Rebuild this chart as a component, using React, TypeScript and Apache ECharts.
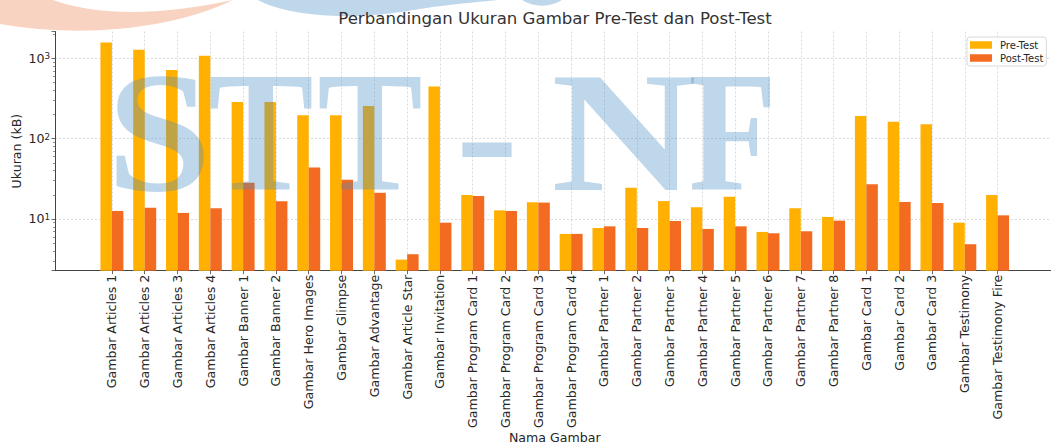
import React, { useEffect, useRef } from 'react';
import * as echarts from 'echarts';

const categories = [
  'Gambar Articles 1', 'Gambar Articles 2', 'Gambar Articles 3', 'Gambar Articles 4',
  'Gambar Banner 1', 'Gambar Banner 2', 'Gambar Hero Images', 'Gambar Glimpse',
  'Gambar Advantage', 'Gambar Article Star', 'Gambar Invitation',
  'Gambar Program Card 1', 'Gambar Program Card 2', 'Gambar Program Card 3', 'Gambar Program Card 4',
  'Gambar Partner 1', 'Gambar Partner 2', 'Gambar Partner 3', 'Gambar Partner 4',
  'Gambar Partner 5', 'Gambar Partner 6', 'Gambar Partner 7', 'Gambar Partner 8',
  'Gambar Card 1', 'Gambar Card 2', 'Gambar Card 3', 'Gambar Testimony', 'Gambar Testimony Fire',
];

const preTest = [
  1580, 1282, 716, 1079, 287, 287, 196, 196, 256, 3.12, 445,
  19.9, 12.8, 16.1, 6.52, 7.73, 24.5, 16.7, 14.0, 18.9, 6.9, 13.6, 10.6,
  192, 162, 151, 9.0, 19.9,
];

const postTest = [
  12.6, 13.8, 11.9, 13.6, 28.2, 16.6, 43.8, 30.8, 21.2, 3.64, 9.0,
  19.3, 12.6, 16.0, 6.52, 8.1, 7.73, 9.44, 7.52, 8.1, 6.64, 7.03, 9.53,
  27.0, 16.3, 15.8, 4.85, 11.1,
];

const seriesNames = ['Pre-Test', 'Post-Test'];
const yMin = 2.27;
const yMax = 2160;
const yMinorTickValues = [3, 4, 5, 6, 7, 8, 9, 20, 30, 40, 50, 60, 70, 80, 90, 200, 300, 400, 500, 600, 700, 800, 900, 2000];

const titleText = 'Perbandingan Ukuran Gambar Pre-Test dan Post-Test';
const xName = 'Nama Gambar';
const yName = 'Ukuran (kB)';

echarts.graphic.registerShape(
  'wmOrangeArc',
  echarts.graphic.extendPath('M0,0 L53,0 Q120,24 233,0 C170,30 80,38 0,24 Z', {})
);
echarts.graphic.registerShape(
  'wmBlueTop',
  echarts.graphic.extendPath('M258,0 C290,18 360,20 413,10 C450,4 480,2 497,0 Z M522,0 C535,8 550,7 562,0 Z', {})
);

const FONT = 'DejaVu Sans';
const TXT = '#262626';
const AXIS = '#444444';
const WM_BLUE = 'rgba(71,141,198,0.35)';

export default function App() {
  const ref = useRef<HTMLDivElement>(null);

  useEffect(() => {
    if (!ref.current) return;
    const chart = echarts.init(ref.current, null, { renderer: 'svg' });
    const idx = categories.map((_, i) => i);

    const wmLetters = [
      { t: 'S', x: 159, sx: 1.1 },
      { t: 'T', x: 261, sx: 0.92 },
      { t: 'T', x: 370, sx: 0.92 },
      { t: '-', x: 487, sx: 1.1 },
      { t: 'N', x: 624, sx: 1.17 },
      { t: 'F', x: 733, sx: 0.84 },
    ];

    const option: any = {
      animation: false,
      backgroundColor: '#ffffff',
      grid: {
        left: 55,
        top: 31.5,
        width: 999.5,
        height: 239.2,
        containLabel: false,
        outerBoundsMode: 'none',
      },
      legend: {
        orient: 'vertical',
        left: 967,
        top: 37,
        itemWidth: 22,
        itemHeight: 7.5,
        itemGap: 3,
        icon: 'rect',
        padding: [3, 3, 3, 3],
        borderColor: '#d9d9d9',
        borderWidth: 1,
        borderRadius: 3,
        backgroundColor: 'rgba(255,255,255,0.85)',
        textStyle: { fontFamily: FONT, fontSize: 10, color: TXT, padding: [0, 0, 0, 3] },
        data: seriesNames,
      },
      xAxis: {
        type: 'value',
        min: -1.735,
        max: 28.735,
        name: xName,
        nameLocation: 'middle',
        nameGap: 160,
        nameMoveOverlap: false,
        nameTextStyle: { fontFamily: FONT, fontSize: 12.6, color: TXT },
        axisLine: { show: true, onZero: false, lineStyle: { color: AXIS, width: 1 } },
        axisTick: { show: true, customValues: idx, length: 3.5, lineStyle: { color: AXIS, width: 0.8 } },
        axisLabel: {
          customValues: idx,
          formatter: (v: number) => categories[Math.round(v)] ?? '',
          rotate: 90,
          margin: 4,
          fontFamily: FONT,
          fontSize: 12.6,
          color: TXT,
          hideOverlap: false,
        },
        splitLine: { show: true, lineStyle: { type: [2, 2], color: '#d2d2d2', width: 0.8 } },
      },
      yAxis: [
        {
          type: 'log',
          logBase: 10,
          min: yMin,
          max: yMax,
          name: yName,
          nameLocation: 'middle',
          nameGap: 32,
          nameMoveOverlap: false,
          nameTextStyle: { fontFamily: FONT, fontSize: 12.6, color: TXT },
          axisLine: { show: true, onZero: false, lineStyle: { color: AXIS, width: 1 } },
          axisTick: { show: true, length: 3.5, lineStyle: { color: AXIS, width: 0.8 } },
          axisLabel: {
            margin: 5,
            formatter: (v: number) => {
              const e = Math.log10(v);
              const r = Math.round(e);
              return Math.abs(e - r) < 1e-6 ? `{b|10}{s|${r}}` : '';
            },
            rich: {
              b: { fontFamily: FONT, fontSize: 12.6, color: TXT, lineHeight: 13, verticalAlign: 'bottom' },
              s: { fontFamily: FONT, fontSize: 8.8, color: TXT, lineHeight: 9, verticalAlign: 'top', padding: [0, 0, 6, 0] },
            },
          },
          splitLine: {
            show: true,
            showMinLine: false,
            showMaxLine: false,
            lineStyle: { type: [2, 2], color: '#d2d2d2', width: 0.8 },
          },
        },
        {
          type: 'value',
          min: Math.log10(yMin),
          max: Math.log10(yMax),
          position: 'left',
          axisLine: { show: false, onZero: false },
          axisLabel: { show: false },
          splitLine: { show: false },
          axisTick: {
            show: true,
            customValues: yMinorTickValues.map((v) => Math.log10(v)),
            length: 2,
            lineStyle: { color: AXIS, width: 0.6 },
          },
        },
      ],
      series: [
        {
          name: seriesNames[0],
          type: 'bar',
          yAxisIndex: 0,
          data: idx.map((i) => [i, preTest[i]]),
          barWidth: '35%',
          barGap: '0%',
          clip: true,
          itemStyle: { color: '#FFB000' },
        },
        {
          name: seriesNames[1],
          type: 'bar',
          yAxisIndex: 0,
          data: idx.map((i) => [i, postTest[i]]),
          barWidth: '35%',
          barGap: '0%',
          clip: true,
          itemStyle: { color: '#F26B21' },
        },
      ],
      graphic: {
        elements: [
          {
            type: 'wmOrangeArc',
            x: 0,
            y: 0,
            z: 90,
            silent: true,
            style: { fill: 'rgba(235,110,50,0.3)' },
          },
          {
            type: 'wmBlueTop',
            x: 0,
            y: 0,
            z: 90,
            silent: true,
            style: { fill: WM_BLUE },
          },
          {
            type: 'text',
            x: 555,
            y: 18,
            z: 95,
            style: {
              text: titleText,
              fill: '#333333',
              fontFamily: FONT,
              fontSize: 16.6,
              align: 'center',
              textAlign: 'center',
              verticalAlign: 'middle',
              textVerticalAlign: 'middle',
            },
          },
          ...wmLetters.map((l) => ({
            type: 'text',
            x: l.x,
            y: 132,
            scaleX: l.sx,
            z: 100,
            silent: true,
            style: {
              text: l.t,
              fill: WM_BLUE,
              fontFamily: 'Liberation Serif',
              fontWeight: 'bold',
              fontSize: 172,
              align: 'center',
              textAlign: 'center',
              verticalAlign: 'middle',
              textVerticalAlign: 'middle',
            },
          })),
        ],
      },
    };

    chart.setOption(option);
    return () => chart.dispose();
  }, []);

  return (
    <div
      ref={ref}
      style={{ position: 'absolute', left: 0, top: 0, width: 1051, height: 446 }}
    />
  );
}
